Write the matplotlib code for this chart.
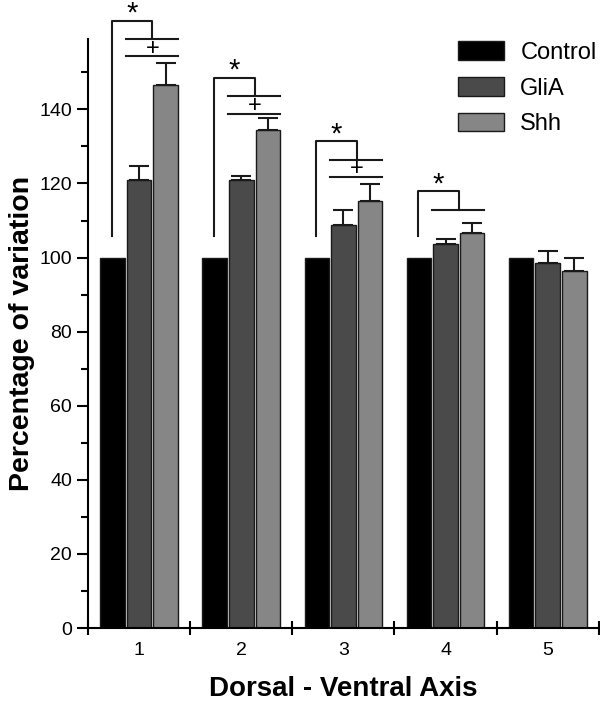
import numpy as np
import matplotlib.pyplot as plt
from matplotlib.ticker import MultipleLocator

plt.rcParams['font.family'] = ['Liberation Sans', 'DejaVu Sans']

groups = ['1', '2', '3', '4', '5']
series = ['Control', 'GliA', 'Shh']
control = [100, 100, 100, 100, 100]
glia = [121.0, 121.0, 108.8, 103.7, 98.5]
glia_err = [3.7, 1.0, 4.0, 1.3, 3.3]
shh = [146.5, 134.4, 115.2, 106.6, 96.4]
shh_err = [5.9, 3.2, 4.6, 2.7, 3.5]
colors = ['#000000', '#4a4a4a', '#868686']

# significance marks (groups 1-4): bracket top, drop level, "+" lines
star_top = [164.0, 148.6, 131.4, 117.9]
star_drop = [158.9, 143.5, 126.3, 112.8]
plus_line = [154.3, 138.7, 121.7, None]
bracket_bottom = 105.8

fig = plt.figure(figsize=(6, 7.02), dpi=100)
ax = fig.add_axes([0.1467, 0.1054, 0.8513, 0.839])

x = np.arange(1, len(groups) + 1)
w = 0.24
off = 0.26
ax.bar(x - off, control, w, color=colors[0], edgecolor='#1a1a1a', linewidth=1, label=series[0])
ax.bar(x, glia, w, color=colors[1], edgecolor='#1a1a1a', linewidth=1, label=series[1])
ax.bar(x + off, shh, w, color=colors[2], edgecolor='#1a1a1a', linewidth=1, label=series[2])
ax.errorbar(x, glia, yerr=[np.zeros(5), glia_err], fmt='none', ecolor='#1a1a1a',
            elinewidth=1.5, capsize=7, capthick=1.5)
ax.errorbar(x + off, shh, yerr=[np.zeros(5), shh_err], fmt='none', ecolor='#1a1a1a',
            elinewidth=1.5, capsize=7, capthick=1.5)

lk = dict(color='#1a1a1a', lw=1.5, clip_on=False)
for i in range(4):
    c = x[i]
    ax.plot([c - 0.27, c - 0.27, c + 0.13, c + 0.13],
            [bracket_bottom, star_top[i], star_top[i], star_drop[i]], **lk)
    ax.plot([c - 0.13, c + 0.38], [star_drop[i], star_drop[i]], **lk)
    ax.text(c - 0.07, star_top[i] - 0.3, '*', ha='center', va='baseline', fontsize=21)
    if plus_line[i] is not None:
        ax.plot([c - 0.13, c + 0.38], [plus_line[i], plus_line[i]], **lk)
        ax.text(c + 0.13, (star_drop[i] + plus_line[i]) / 2 - 0.2, '+', ha='center',
                va='center', fontsize=17)

ax.set_xlim(0.5, 5.5)
ax.set_ylim(0, 159)
ax.spines['top'].set_visible(False)
ax.spines['right'].set_visible(False)
ax.spines['left'].set_linewidth(1.5)
ax.spines['bottom'].set_linewidth(1.5)
ax.yaxis.set_major_locator(MultipleLocator(20))
ax.yaxis.set_minor_locator(MultipleLocator(10))
ax.tick_params(axis='y', which='major', length=8, width=1.5, labelsize=14)
ax.tick_params(axis='y', which='minor', length=5, width=1.5)
ax.set_xticks(np.arange(0.5, 6, 1))
ax.set_xticklabels([])
ax.set_xticks(x, minor=True)
ax.set_xticklabels(groups, minor=True)
ax.tick_params(axis='x', which='major', direction='inout', length=10, width=1.5)
ax.tick_params(axis='x', which='minor', length=0, labelsize=14, pad=10)

ax.set_ylabel('Percentage of variation', fontsize=20.5, fontweight='bold', labelpad=3)
ax.set_xlabel('Dorsal - Ventral Axis', fontsize=20, fontweight='bold', labelpad=12)

ax.legend(loc='upper left', bbox_to_anchor=(0.763, 0.941), bbox_transform=fig.transFigure,
          frameon=False, fontsize=17, handlelength=1.95, handleheight=0.85,
          handletextpad=0.7, labelspacing=0.55, borderpad=0, borderaxespad=0)

fig.savefig('out.png', dpi=100)
